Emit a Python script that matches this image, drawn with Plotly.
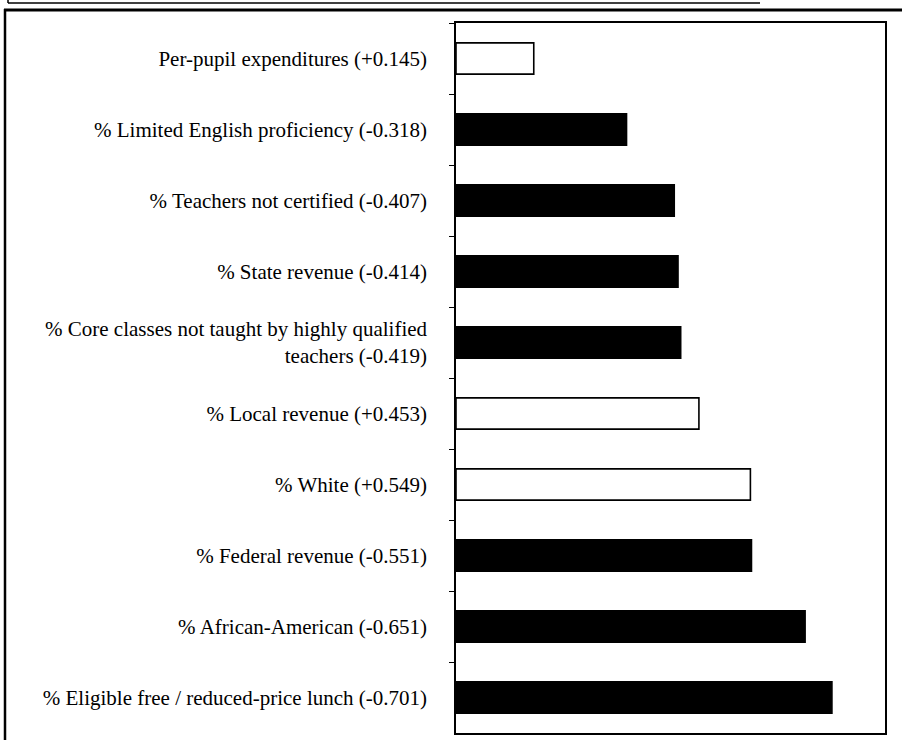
import plotly.graph_objects as go

categories = [
    "Per-pupil expenditures (+0.145)",
    "% Limited English proficiency (-0.318)",
    "% Teachers not certified (-0.407)",
    "% State revenue (-0.414)",
    "% Core classes not taught by highly qualified<br>teachers (-0.419)",
    "% Local revenue (+0.453)",
    "% White (+0.549)",
    "% Federal revenue (-0.551)",
    "% African-American (-0.651)",
    "% Eligible free / reduced-price lunch (-0.701)",
]
correlations = [0.145, -0.318, -0.407, -0.414, -0.419, 0.453, 0.549, -0.551, -0.651, -0.701]

magnitudes = [abs(v) for v in correlations]
fills = ["white" if v > 0 else "black" for v in correlations]

W, H = 902, 740
L, R, T, B = 456, 885, 23, 733

fig = go.Figure(go.Bar(
    x=magnitudes, y=categories, orientation="h",
    marker=dict(color=fills, line=dict(color="black", width=1.6)),
    width=0.44,
))

def px_x(p):
    return (p - L) / (R - L)

def px_y(p):
    return (B - p) / (B - T)

shapes = [
    dict(type="line", xref="paper", yref="paper", x0=px_x(5), x1=px_x(5), y0=px_y(9), y1=px_y(745),
         line=dict(color="black", width=2.5)),
    dict(type="line", xref="paper", yref="paper", x0=px_x(4), x1=px_x(905), y0=px_y(10), y1=px_y(10),
         line=dict(color="black", width=3)),
    dict(type="line", xref="paper", yref="paper", x0=px_x(8), x1=px_x(760), y0=px_y(3), y1=px_y(3),
         line=dict(color="black", width=1.5)),
    dict(type="line", xref="paper", yref="paper", x0=px_x(8), x1=px_x(8), y0=px_y(3), y1=px_y(-5),
         line=dict(color="black", width=1.5)),
]

fig.update_layout(
    width=W, height=H,
    margin=dict(l=L, r=W - R, t=T, b=H - B, autoexpand=False),
    plot_bgcolor="white", paper_bgcolor="white",
    showlegend=False,
    font=dict(family="Liberation Serif", size=21, color="black"),
    shapes=shapes,
)
fig.update_xaxes(range=[0, 0.8], showticklabels=False, ticks="", showgrid=False, zeroline=False,
                 showline=True, mirror=True, linecolor="black", linewidth=1.5)
fig.update_yaxes(autorange="reversed", showgrid=False, zeroline=False, showline=True, mirror=True,
                 linecolor="black", linewidth=1.5, ticks="outside", ticklen=5, tickcolor="black",
                 tickson="boundaries", ticklabelstandoff=23)

fig.write_html("out.html", config={"displayModeBar": False},
               post_script="document.body.style.margin='0';document.body.style.overflow='hidden';")
